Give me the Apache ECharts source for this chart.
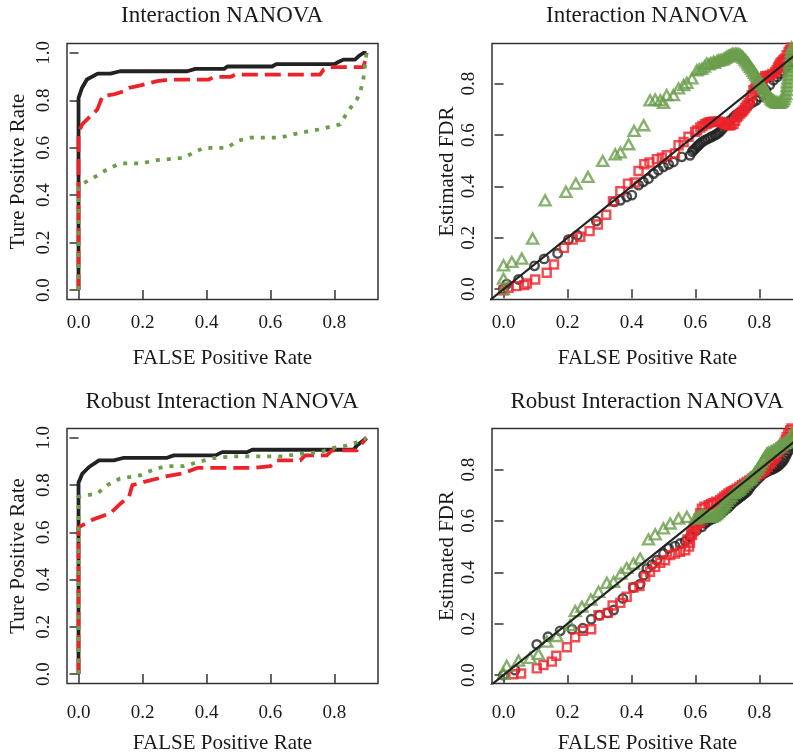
<!DOCTYPE html>
<html><head><meta charset="utf-8">
<script src="https://cdn.jsdelivr.net/npm/echarts@6/dist/echarts.min.js"></script>
<style>html,body{margin:0;padding:0;background:#fff}#c{width:793px;height:756px}</style>
</head><body><div id="c"></div>
<script>
// ---------- labels ----------
const panelTitles = ['Interaction NANOVA', 'Interaction NANOVA', 'Robust Interaction NANOVA', 'Robust Interaction NANOVA'];
const xAxisName = 'FALSE Positive Rate';
const yAxisNames = ['Ture Positive Rate', 'Estimated FDR', 'Ture Positive Rate', 'Estimated FDR'];
const xTicks = [0, 0.2, 0.4, 0.6, 0.8];
const yTicksRoc = [0, 0.2, 0.4, 0.6, 0.8, 1.0];
const yTicksFdr = [0, 0.2, 0.4, 0.6, 0.8];

// ---------- panel 1: ROC, Interaction NANOVA ----------
const roc1Black = [[0,0],[0,0.81],[0.01,0.85],[0.026,0.888],[0.06,0.913],[0.10,0.913],[0.13,0.923],[0.34,0.923],[0.365,0.933],[0.455,0.933],[0.465,0.943],[0.605,0.943],[0.618,0.953],[0.80,0.953],[0.812,0.962],[0.828,0.972],[0.864,0.972],[0.875,0.986],[0.89,1.0],[0.9,1.0]];
const roc1Red = [[0,0],[0,0.664],[0.012,0.70],[0.038,0.734],[0.059,0.762],[0.075,0.818],[0.11,0.825],[0.142,0.839],[0.158,0.853],[0.194,0.863],[0.246,0.881],[0.288,0.888],[0.407,0.888],[0.423,0.899],[0.475,0.899],[0.49,0.909],[0.755,0.909],[0.766,0.93],[0.786,0.94],[0.89,0.94],[0.9,0.986],[0.9,1.0]];
const roc1Green = [[0,0],[0,0.434],[0.012,0.448],[0.059,0.483],[0.09,0.51],[0.13,0.534],[0.194,0.534],[0.246,0.548],[0.33,0.558],[0.36,0.58],[0.392,0.60],[0.465,0.60],[0.496,0.629],[0.538,0.643],[0.63,0.643],[0.694,0.664],[0.755,0.678],[0.797,0.692],[0.818,0.699],[0.839,0.748],[0.87,0.804],[0.88,0.832],[0.89,0.888],[0.895,0.944],[0.9,1.0]];

// ---------- panel 3: ROC, Robust Interaction NANOVA ----------
const roc2Black = [[0,0],[0,0.81],[0.012,0.849],[0.033,0.877],[0.064,0.905],[0.11,0.905],[0.142,0.916],[0.277,0.916],[0.298,0.926],[0.428,0.926],[0.449,0.94],[0.527,0.94],[0.543,0.95],[0.86,0.95],[0.87,0.968],[0.89,0.989],[0.9,1.0]];
const roc2Red = [[0,0],[0,0.621],[0.044,0.654],[0.10,0.682],[0.127,0.717],[0.158,0.751],[0.168,0.80],[0.205,0.814],[0.277,0.838],[0.324,0.849],[0.371,0.873],[0.548,0.873],[0.60,0.881],[0.62,0.905],[0.693,0.905],[0.708,0.926],[0.776,0.926],[0.792,0.947],[0.87,0.947],[0.885,0.975],[0.9,1.0]];
const roc2Green = [[0,0],[0,0.751],[0.023,0.756],[0.059,0.765],[0.09,0.80],[0.13,0.828],[0.194,0.842],[0.236,0.867],[0.277,0.881],[0.33,0.881],[0.38,0.90],[0.423,0.915],[0.485,0.922],[0.64,0.922],[0.693,0.933],[0.755,0.94],[0.797,0.958],[0.839,0.968],[0.87,0.982],[0.89,0.996],[0.9,1.0]];

// ---------- panel 2: FDR, Interaction NANOVA ----------
const fdr1Black = [[0.0,0.0],[0.01,0.02],[0.047,0.038],[0.097,0.091],[0.127,0.118],[0.169,0.139],[0.203,0.193],[0.231,0.21],[0.29,0.265],[0.346,0.34],[0.365,0.346],[0.385,0.359],[0.401,0.366],[0.422,0.405],[0.437,0.418],[0.453,0.43],[0.469,0.45],[0.484,0.463],[0.5,0.476],[0.516,0.486],[0.531,0.495],[0.557,0.515],[0.583,0.521],[0.59,0.535],[0.594,0.541],[0.6,0.548],[0.605,0.555],[0.61,0.561],[0.615,0.567],[0.622,0.574],[0.63,0.58],[0.638,0.585],[0.646,0.59],[0.653,0.595],[0.661,0.599],[0.666,0.603],[0.672,0.608],[0.678,0.615],[0.685,0.625],[0.692,0.635],[0.70,0.645],[0.708,0.657],[0.719,0.67],[0.727,0.678],[0.735,0.685],[0.742,0.69],[0.75,0.696],[0.76,0.708],[0.77,0.72],[0.78,0.728],[0.79,0.735],[0.802,0.748],[0.81,0.76],[0.82,0.775],[0.832,0.795],[0.844,0.813],[0.855,0.826],[0.865,0.839],[0.872,0.85],[0.88,0.86],[0.888,0.87],[0.895,0.88],[0.9,0.89]];
const fdr1Red = [[0.0,-0.004],[0.016,0.006],[0.04,0.012],[0.065,0.016],[0.073,0.022],[0.099,0.038],[0.135,0.064],[0.158,0.096],[0.189,0.161],[0.216,0.193],[0.24,0.204],[0.269,0.226],[0.295,0.252],[0.321,0.29],[0.342,0.342],[0.365,0.381],[0.389,0.411],[0.41,0.415],[0.422,0.46],[0.44,0.486],[0.456,0.493],[0.479,0.506],[0.495,0.512],[0.51,0.521],[0.536,0.528],[0.547,0.56],[0.563,0.573],[0.578,0.593],[0.599,0.612],[0.605,0.618],[0.615,0.629],[0.622,0.635],[0.63,0.642],[0.636,0.645],[0.641,0.648],[0.646,0.65],[0.651,0.651],[0.657,0.652],[0.664,0.652],[0.67,0.652],[0.677,0.651],[0.683,0.648],[0.69,0.645],[0.696,0.642],[0.703,0.638],[0.708,0.638],[0.712,0.64],[0.719,0.644],[0.724,0.655],[0.729,0.67],[0.734,0.676],[0.74,0.683],[0.745,0.69],[0.75,0.696],[0.755,0.705],[0.76,0.715],[0.766,0.725],[0.771,0.735],[0.776,0.755],[0.781,0.774],[0.786,0.78],[0.79,0.787],[0.796,0.794],[0.802,0.8],[0.806,0.808],[0.81,0.815],[0.814,0.822],[0.818,0.829],[0.826,0.83],[0.833,0.832],[0.84,0.838],[0.849,0.845],[0.854,0.853],[0.858,0.862],[0.861,0.87],[0.865,0.878],[0.869,0.883],[0.873,0.888],[0.876,0.893],[0.88,0.897],[0.885,0.91],[0.891,0.923],[0.895,0.93],[0.9,0.94]];
const fdr1Green = [[0.0,0.0],[0.0,0.041],[0.0,0.093],[0.026,0.106],[0.057,0.119],[0.091,0.197],[0.13,0.346],[0.195,0.379],[0.226,0.411],[0.264,0.437],[0.31,0.499],[0.349,0.525],[0.365,0.532],[0.391,0.564],[0.408,0.616],[0.438,0.638],[0.458,0.735],[0.474,0.738],[0.49,0.735],[0.5,0.725],[0.51,0.755],[0.531,0.755],[0.547,0.781],[0.563,0.794],[0.573,0.803],[0.589,0.82],[0.604,0.852],[0.612,0.856],[0.62,0.858],[0.628,0.866],[0.635,0.878],[0.642,0.875],[0.648,0.88],[0.656,0.884],[0.66,0.882],[0.667,0.888],[0.672,0.89],[0.677,0.891],[0.682,0.893],[0.688,0.895],[0.693,0.9],[0.698,0.904],[0.703,0.907],[0.708,0.91],[0.712,0.912],[0.716,0.914],[0.72,0.915],[0.726,0.916],[0.731,0.915],[0.736,0.914],[0.741,0.91],[0.746,0.905],[0.75,0.9],[0.755,0.893],[0.759,0.887],[0.764,0.88],[0.767,0.872],[0.772,0.865],[0.776,0.858],[0.78,0.85],[0.784,0.842],[0.788,0.835],[0.792,0.828],[0.796,0.82],[0.8,0.81],[0.804,0.802],[0.808,0.794],[0.812,0.785],[0.816,0.778],[0.82,0.77],[0.824,0.762],[0.828,0.755],[0.832,0.748],[0.836,0.742],[0.84,0.737],[0.844,0.733],[0.848,0.73],[0.852,0.727],[0.856,0.726],[0.86,0.725],[0.864,0.726],[0.868,0.728],[0.872,0.733],[0.876,0.74],[0.879,0.75],[0.882,0.76],[0.884,0.775],[0.886,0.79],[0.887,0.805],[0.889,0.82],[0.89,0.835],[0.892,0.85],[0.893,0.865],[0.895,0.88],[0.896,0.895],[0.898,0.91],[0.899,0.925],[0.9,0.94]];

// ---------- panel 4: FDR, Robust Interaction NANOVA ----------
const fdr2Black = [[0.0,0.0],[0.036,0.019],[0.104,0.119],[0.139,0.149],[0.177,0.172],[0.214,0.178],[0.248,0.182],[0.274,0.217],[0.3,0.233],[0.326,0.242],[0.344,0.253],[0.373,0.298],[0.406,0.341],[0.427,0.354],[0.438,0.389],[0.448,0.415],[0.464,0.43],[0.479,0.447],[0.5,0.473],[0.516,0.493],[0.536,0.502],[0.552,0.512],[0.568,0.521],[0.583,0.538],[0.604,0.564],[0.62,0.577],[0.63,0.59],[0.635,0.596],[0.645,0.603],[0.656,0.609],[0.663,0.615],[0.672,0.622],[0.678,0.628],[0.685,0.635],[0.69,0.641],[0.698,0.648],[0.703,0.654],[0.708,0.66],[0.714,0.667],[0.719,0.674],[0.725,0.679],[0.73,0.684],[0.735,0.689],[0.74,0.694],[0.745,0.698],[0.75,0.703],[0.755,0.708],[0.76,0.713],[0.765,0.72],[0.77,0.73],[0.775,0.738],[0.781,0.746],[0.789,0.756],[0.797,0.766],[0.805,0.775],[0.813,0.785],[0.818,0.788],[0.823,0.792],[0.828,0.795],[0.833,0.798],[0.838,0.8],[0.844,0.804],[0.849,0.807],[0.854,0.81],[0.86,0.815],[0.865,0.822],[0.87,0.828],[0.875,0.836],[0.879,0.845],[0.883,0.855],[0.887,0.865],[0.891,0.875],[0.895,0.89],[0.901,0.914]];
const fdr2Red = [[0.031,0.003],[0.055,0.006],[0.104,0.026],[0.125,0.039],[0.151,0.052],[0.165,0.075],[0.198,0.108],[0.224,0.147],[0.248,0.172],[0.274,0.178],[0.297,0.233],[0.326,0.242],[0.341,0.271],[0.365,0.281],[0.385,0.305],[0.406,0.341],[0.425,0.346],[0.443,0.383],[0.458,0.402],[0.474,0.421],[0.49,0.437],[0.505,0.447],[0.521,0.467],[0.536,0.473],[0.552,0.48],[0.568,0.486],[0.575,0.528],[0.58,0.5],[0.583,0.515],[0.587,0.55],[0.589,0.545],[0.593,0.56],[0.599,0.571],[0.605,0.585],[0.61,0.61],[0.615,0.596],[0.615,0.63],[0.62,0.648],[0.628,0.655],[0.641,0.661],[0.648,0.666],[0.656,0.67],[0.665,0.675],[0.677,0.681],[0.684,0.688],[0.69,0.694],[0.697,0.7],[0.703,0.707],[0.71,0.712],[0.716,0.716],[0.722,0.72],[0.729,0.726],[0.737,0.732],[0.745,0.739],[0.752,0.745],[0.76,0.752],[0.768,0.758],[0.776,0.765],[0.784,0.772],[0.792,0.778],[0.8,0.784],[0.805,0.788],[0.812,0.793],[0.818,0.798],[0.826,0.81],[0.833,0.823],[0.838,0.83],[0.844,0.84],[0.849,0.848],[0.854,0.856],[0.862,0.868],[0.87,0.882],[0.874,0.893],[0.878,0.905],[0.882,0.915],[0.885,0.927],[0.89,0.94],[0.896,0.953],[0.9,0.96]];
const fdr2Green = [[0.0,0.005],[0.01,0.036],[0.047,0.056],[0.083,0.067],[0.109,0.082],[0.135,0.13],[0.167,0.152],[0.208,0.194],[0.224,0.249],[0.245,0.266],[0.273,0.294],[0.297,0.324],[0.323,0.359],[0.344,0.363],[0.367,0.395],[0.385,0.417],[0.406,0.434],[0.427,0.454],[0.453,0.528],[0.474,0.548],[0.5,0.571],[0.521,0.59],[0.547,0.609],[0.573,0.616],[0.599,0.609],[0.605,0.612],[0.612,0.618],[0.618,0.62],[0.625,0.622],[0.631,0.621],[0.638,0.62],[0.644,0.618],[0.651,0.616],[0.657,0.62],[0.662,0.626],[0.667,0.63],[0.672,0.635],[0.678,0.643],[0.683,0.652],[0.688,0.66],[0.693,0.668],[0.699,0.678],[0.706,0.688],[0.712,0.697],[0.719,0.707],[0.724,0.711],[0.73,0.716],[0.735,0.721],[0.74,0.726],[0.746,0.734],[0.753,0.742],[0.76,0.75],[0.766,0.759],[0.77,0.763],[0.774,0.768],[0.781,0.778],[0.786,0.788],[0.792,0.798],[0.797,0.807],[0.802,0.817],[0.807,0.828],[0.812,0.84],[0.818,0.851],[0.823,0.862],[0.828,0.865],[0.834,0.868],[0.839,0.871],[0.844,0.875],[0.85,0.88],[0.855,0.885],[0.86,0.89],[0.865,0.895],[0.87,0.898],[0.875,0.902],[0.88,0.905],[0.885,0.908],[0.889,0.915],[0.893,0.922],[0.897,0.93],[0.901,0.94]];

const diagLine = [[-0.1,-0.1],[1.1,1.1]];

// ---------- styles ----------
const BLACK = '#222222', RED = '#EE2229', GREEN = '#6A9E4B';
const FONT = 'Liberation Serif';

const grids = [
  {left: 67, top: 43.5, width: 311, height: 256},
  {left: 492, top: 43.5, width: 311, height: 256},
  {left: 67, top: 428.5, width: 311, height: 255},
  {left: 492, top: 428.5, width: 311, height: 255}
].map(g => Object.assign(g, {show: true, borderColor: '#333', borderWidth: 1.5, backgroundColor: 'transparent', containLabel: false, outerBoundsMode: 'none'}));

const yRanges = [[-0.04, 1.04], [-0.04, 0.956], [-0.04, 1.04], [-0.033, 0.96]];
const yTickSets = [yTicksRoc, yTicksFdr, yTicksRoc, yTicksFdr];
const xLabelMargin = [14, 14, 20, 20];
const xNameGap = [48, 48, 49, 49];
const yNameGap = [38, 34, 38, 34];

const xAxes = grids.map((g, i) => ({
  type: 'value', gridIndex: i, min: -0.036, max: 0.936,
  splitLine: {show: false},
  axisLine: {show: false},
  axisTick: {show: true, customValues: xTicks, length: 9, lineStyle: {color: '#333', width: 1.5}},
  axisLabel: {customValues: xTicks, formatter: v => v.toFixed(1), fontFamily: FONT, fontSize: 19, color: '#1a1a1a', margin: xLabelMargin[i]},
  name: xAxisName, nameLocation: 'middle', nameGap: xNameGap[i],
  nameTextStyle: {fontFamily: FONT, fontSize: 21, color: '#1a1a1a'}
}));
const yAxes = grids.map((g, i) => ({
  type: 'value', gridIndex: i, min: yRanges[i][0], max: yRanges[i][1],
  splitLine: {show: false},
  axisLine: {show: false},
  axisTick: {show: true, customValues: yTickSets[i], length: 9, lineStyle: {color: '#333', width: 1.5}},
  axisLabel: {customValues: yTickSets[i], formatter: v => v.toFixed(1), rotate: 90, fontFamily: FONT, fontSize: 19, color: '#1a1a1a', margin: 13},
  name: yAxisNames[i], nameLocation: 'middle', nameGap: yNameGap[i],
  nameTextStyle: {fontFamily: FONT, fontSize: 21, color: '#1a1a1a'}
}));

const titleCenters = [[222, 4], [647, 4], [222, 390], [647, 390]];
const titles = panelTitles.map((t, i) => ({
  text: t, left: titleCenters[i][0], top: titleCenters[i][1], textAlign: 'center', padding: 0,
  textStyle: {fontFamily: FONT, fontSize: 23, fontWeight: 'normal', color: '#1a1a1a'}
}));

function rocLine(data, idx, color, dash) {
  return {type: 'line', xAxisIndex: idx, yAxisIndex: idx, data: data, showSymbol: false, symbol: 'none',
    clip: true, lineStyle: {color: color, width: 3.8, type: dash || 'solid', cap: 'butt', join: 'round'}};
}
function pts(data, idx, color, symbol, size) {
  return {type: 'scatter', xAxisIndex: idx, yAxisIndex: idx, data: data, symbol: symbol, symbolSize: size, clip: true,
    itemStyle: {color: 'rgba(255,255,255,0)', borderColor: color, borderWidth: 2.4}};
}
function diag(idx) {
  return {type: 'line', xAxisIndex: idx, yAxisIndex: idx, data: diagLine, showSymbol: false, symbol: 'none', clip: true, z: 5,
    lineStyle: {color: BLACK, width: 2.2}};
}

const series = [
  rocLine(roc1Black, 0, BLACK),
  rocLine(roc1Red, 0, RED, [16, 7]),
  rocLine(roc1Green, 0, GREEN, [4, 7]),
  pts(fdr1Black, 1, BLACK, 'circle', 8.5),
  pts(fdr1Red, 1, RED, 'rect', 8),
  pts(fdr1Green, 1, GREEN, 'triangle', [11, 10]),
  diag(1),
  rocLine(roc2Black, 2, BLACK),
  rocLine(roc2Red, 2, RED, [16, 7]),
  rocLine(roc2Green, 2, GREEN, [4, 7]),
  pts(fdr2Black, 3, BLACK, 'circle', 8.5),
  pts(fdr2Red, 3, RED, 'rect', 8),
  pts(fdr2Green, 3, GREEN, 'triangle', [11, 10]),
  diag(3)
];

const chart = echarts.init(document.getElementById('c'), null, {renderer: 'canvas'});
chart.setOption({
  animation: false,
  backgroundColor: '#ffffff',
  title: titles,
  grid: grids,
  xAxis: xAxes,
  yAxis: yAxes,
  series: series
});
</script>
</body></html>
